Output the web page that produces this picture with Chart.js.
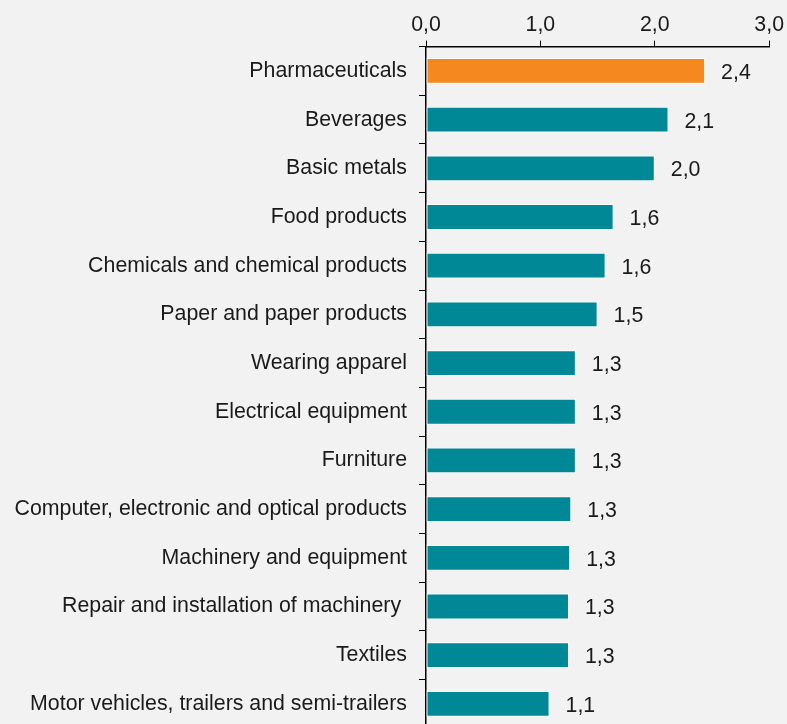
<!DOCTYPE html>
<html>
<head>
<meta charset="utf-8">
<script src="https://cdn.jsdelivr.net/npm/chart.js@4/dist/chart.umd.min.js"></script>
<style>
  html, body { margin: 0; padding: 0; background: #f2f2f2; overflow: hidden; }
  #wrap { position: relative; width: 787px; height: 753px; }
</style>
</head>
<body>
<div id="wrap"><canvas id="chart"></canvas></div>
<script>
const industries = [
    'Pharmaceuticals',
    'Beverages',
    'Basic metals',
    'Food products',
    'Chemicals and chemical products',
    'Paper and paper products',
    'Wearing apparel',
    'Electrical equipment',
    'Furniture',
    'Computer, electronic and optical products',
    'Machinery and equipment',
    'Repair and installation of machinery ',
    'Textiles',
    'Motor vehicles, trailers and semi-trailers'
];
const ratios = [2.44, 2.12, 2.0, 1.64, 1.57, 1.5, 1.31, 1.31, 1.31, 1.27, 1.26, 1.25, 1.25, 1.08];
const xTicks = [0, 1, 2, 3];

const teal = '#008896';
const orange = '#f5891f';
const fontFamily = '"Liberation Sans", Arial, sans-serif';
const fontSize = 21.33;

const fmt = (v) => v.toFixed(1).replace('.', ',');

// value text to the right of each bar
const valueLabels = {
    id: 'valueLabels',
    afterDatasetsDraw(chart) {
        const ctx = chart.ctx;
        const meta = chart.getDatasetMeta(0);
        ctx.save();
        ctx.font = fontSize + 'px ' + fontFamily;
        ctx.fillStyle = '#1a1a1a';
        ctx.textAlign = 'left';
        ctx.textBaseline = 'middle';
        meta.data.forEach((bar, i) => {
            ctx.fillText(fmt(ratios[i]), bar.x + 16, bar.y + 2);
        });
        ctx.restore();
    }
};

const ctx = document.getElementById('chart').getContext('2d');
const myChart = new Chart(ctx, {
    type: 'bar',
    data: {
        labels: industries,
        datasets: [{
            data: ratios,
            backgroundColor: ratios.map((v, i) => i === 0 ? orange : teal),
            borderColor: '#ffffff',
            borderWidth: 1,
            borderSkipped: false,
            categoryPercentage: 1,
            barPercentage: 0.53
        }]
    },
    plugins: [valueLabels],
    options: {
        indexAxis: 'y',
        responsive: true,
        maintainAspectRatio: false,
        animation: false,
        layout: { padding: { top: 9, left: 0, right: 2, bottom: 0 } },
        plugins: {
            legend: { display: false },
            tooltip: { enabled: false }
        },
        scales: {
            x: {
                position: 'top',
                min: 0,
                max: 3,
                afterBuildTicks: (scale) => {
                    scale.ticks = xTicks.map((v) => ({ value: v }));
                },
                ticks: {
                    color: '#1a1a1a',
                    font: { family: fontFamily, size: fontSize },
                    padding: 3,
                    callback: (v) => fmt(v)
                },
                grid: {
                    drawOnChartArea: false,
                    color: '#000000',
                    tickLength: 6
                },
                border: { color: '#000000', width: 1.5 }
            },
            y: {
                afterFit: (scale) => { scale.width = 426; },
                ticks: {
                    color: '#1a1a1a',
                    font: { family: fontFamily, size: fontSize },
                    padding: 12,
                    autoSkip: false
                },
                grid: {
                    drawOnChartArea: false,
                    color: '#000000',
                    tickLength: 7,
                    offset: true
                },
                border: { color: '#000000', width: 1.5 }
            }
        }
    }
});
</script>
</body>
</html>
